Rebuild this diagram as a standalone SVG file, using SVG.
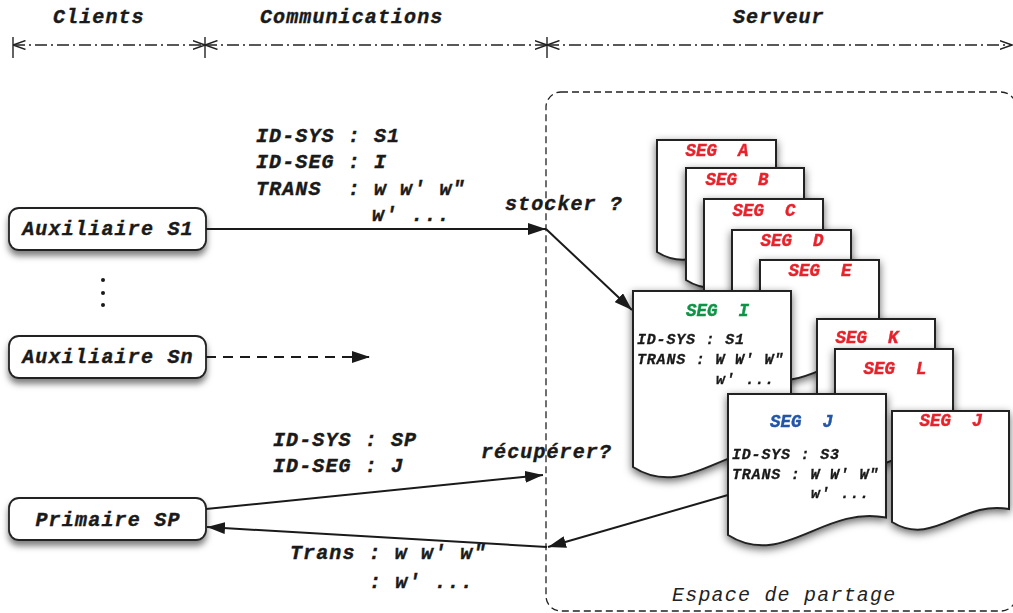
<svg xmlns="http://www.w3.org/2000/svg" width="1013" height="613" viewBox="0 0 1013 613">
<style>
  text{white-space:pre}
  .t{font-family:"Liberation Mono","DejaVu Sans Mono",monospace;font-weight:bold;font-style:italic;font-size:20px;letter-spacing:1.1px;fill:#1a1a1a;stroke:#1a1a1a;stroke-width:0.4}
  .n{font-family:"Liberation Mono","DejaVu Sans Mono",monospace;font-weight:bold;font-style:italic;font-size:20px;letter-spacing:1.2px;fill:#1a1a1a;stroke:#1a1a1a;stroke-width:0.4;text-anchor:middle}
  .seg{font-family:"Liberation Mono","DejaVu Sans Mono",monospace;font-weight:bold;font-style:italic;font-size:17.5px;text-anchor:middle;stroke-width:0.4}
  .d{font-family:"Liberation Mono","DejaVu Sans Mono",monospace;font-weight:bold;font-style:italic;font-size:15px;letter-spacing:0.8px;fill:#1a1a1a;stroke:#1a1a1a;stroke-width:0.3}
  .red{fill:#e8212b;stroke:#e8212b}.green{fill:#0c9447;stroke:#0c9447}.blue{fill:#2356a8;stroke:#2356a8}
  .node{fill:#fff;stroke:#222;stroke-width:1.8}
  .doc{fill:#fff;stroke:#222;stroke-width:2}
  .conn{stroke:#1a1a1a;stroke-width:2;fill:none}
  .ruler{stroke:#222;stroke-width:1.3;fill:none;stroke-dasharray:12 4 2 4}
</style>
<defs>
  <filter id="sh" x="-20%" y="-20%" width="140%" height="160%">
    <feDropShadow dx="0" dy="5" stdDeviation="3" flood-color="#000" flood-opacity="0.5"/>
  </filter>
  <filter id="dsh" x="-20%" y="-20%" width="140%" height="140%">
    <feDropShadow dx="0" dy="3" stdDeviation="4" flood-color="#000" flood-opacity="0.6"/>
  </filter>
  <marker id="arr" viewBox="0 0 18 12" refX="18" refY="6" markerWidth="18" markerHeight="12" markerUnits="userSpaceOnUse" orient="auto">
    <path d="M0,0 L18,6 L0,12 Z" fill="#1a1a1a"/>
  </marker>
  <marker id="chev" viewBox="0 0 13 10" refX="12.5" refY="5" markerWidth="13" markerHeight="10" markerUnits="userSpaceOnUse" orient="auto-start-reverse">
    <path d="M0,0.5 L12.5,5 L0,9.5" fill="none" stroke="#222" stroke-width="1.4"/>
  </marker>
</defs>

<g id="header">
  <text class="t" x="53" y="23" letter-spacing="1.2">Clients</text>
  <text class="t" x="260" y="23" letter-spacing="1.2">Communications</text>
  <text class="t" x="733" y="23" letter-spacing="1.2">Serveur</text>
  <line x1="13" y1="37" x2="13" y2="58" stroke="#222" stroke-width="1.4"/>
  <line x1="205" y1="37" x2="205" y2="58" stroke="#222" stroke-width="1.4"/>
  <line x1="547" y1="37" x2="547" y2="58" stroke="#222" stroke-width="1.4"/>
  <line class="ruler" x1="13" y1="45" x2="205" y2="45" marker-start="url(#chev)" marker-end="url(#chev)"/>
  <line class="ruler" x1="205" y1="45" x2="547" y2="45" marker-start="url(#chev)" marker-end="url(#chev)"/>
  <line class="ruler" x1="547" y1="45" x2="1012" y2="45" marker-start="url(#chev)" marker-end="url(#chev)"/>
</g>

<g id="espace-de-partage">
  <rect x="546" y="92" width="470" height="519" rx="15" fill="none" stroke="#222" stroke-width="1.3" stroke-dasharray="7 4"/>
  <text x="672" y="601" font-family="Liberation Mono, DejaVu Sans Mono, monospace" font-style="italic" font-size="20" letter-spacing="1.2" fill="#222">Espace de partage</text>
</g>

<g id="seg-A" filter="url(#dsh)">
  <path class="doc" d="M657,140 H776 V239 C728.4,229.4 698.6,278 657,252 Z"/>
  <text class="seg red" x="717" y="156">SEG  A</text>
</g>
<g id="seg-B" filter="url(#dsh)">
  <path class="doc" d="M686,168 H804 V267 C756.8,257.6 727.3,306 686,280 Z"/>
  <text class="seg red" x="737" y="185">SEG  B</text>
</g>
<g id="seg-C" filter="url(#dsh)">
  <path class="doc" d="M704,199 H823 V298 C775.4,288.4 745.6,337 704,311 Z"/>
  <text class="seg red" x="764" y="216">SEG  C</text>
</g>
<g id="seg-D" filter="url(#dsh)">
  <path class="doc" d="M732,230 H851 V329 C803.4,319.4 773.6,368 732,342 Z"/>
  <text class="seg red" x="792" y="246">SEG  D</text>
</g>
<g id="seg-E" filter="url(#dsh)">
  <path class="doc" d="M760,260 H879 V359 C831.4,349.4 801.6,398 760,372 Z"/>
  <text class="seg red" x="820" y="276">SEG  E</text>
</g>
<g id="seg-I" filter="url(#dsh)">
  <path class="doc" d="M633,291 H791 V449.6 C727.8,437 688.3,501.8 633,467 Z"/>
  <text class="seg green" x="717.5" y="316">SEG  I</text>
  <text class="d" x="637" y="344">ID-SYS : S1</text>
  <text class="d" x="637" y="364">TRANS : W W' W"</text>
  <text class="d" x="716" y="384">w' ...</text>
</g>
<g id="seg-K" filter="url(#dsh)">
  <path class="doc" d="M817,319 H935 V418 C887.8,408.6 858.3,457 817,431 Z"/>
  <text class="seg red" x="867" y="343">SEG  K</text>
</g>
<g id="seg-L" filter="url(#dsh)">
  <path class="doc" d="M835,349 H953 V448 C905.8,438.6 876.3,487 835,461 Z"/>
  <text class="seg red" x="895" y="374">SEG  L</text>
</g>
<g id="seg-J-blue" filter="url(#dsh)">
  <path class="doc" d="M728,394 H886 V517.6 C822.8,505 783.3,569.8 728,535 Z"/>
  <text class="seg blue" x="801.5" y="427">SEG  J</text>
  <text class="d" x="732" y="459">ID-SYS : S3</text>
  <text class="d" x="732" y="479">TRANS : W W' W"</text>
  <text class="d" x="811" y="498">w' ...</text>
</g>
<g id="seg-J-red" filter="url(#dsh)">
  <path class="doc" d="M892,411 H1009 V509.1 C962.2,499.8 933,547.7 892,522 Z"/>
  <text class="seg red" x="951" y="426">SEG  J</text>
</g>

<g id="auxiliaire-s1">
  <rect class="node" x="9" y="208" width="197" height="42" rx="10" filter="url(#sh)"/>
  <text class="n" x="108" y="235">Auxiliaire S1</text>
</g>
<g id="dots" fill="#1a1a1a">
  <circle cx="103" cy="280" r="2"/>
  <circle cx="103" cy="293" r="2"/>
  <circle cx="103" cy="305" r="2"/>
</g>
<g id="auxiliaire-sn">
  <rect class="node" x="9" y="336" width="197" height="42" rx="10" filter="url(#sh)"/>
  <text class="n" x="108" y="363">Auxiliaire Sn</text>
</g>
<g id="primaire-sp">
  <rect class="node" x="9" y="498" width="197" height="42" rx="10" filter="url(#sh)"/>
  <text class="n" x="108" y="526">Primaire SP</text>
</g>

<g id="connectors">
  <line class="conn" x1="206" y1="229" x2="546" y2="229" marker-end="url(#arr)"/>
  <line class="conn" x1="546" y1="229" x2="632" y2="310" marker-end="url(#arr)"/>
  <line class="conn" x1="206" y1="357" x2="370" y2="357" stroke-dasharray="10 7" marker-end="url(#arr)"/>
  <line class="conn" x1="206" y1="509" x2="543" y2="475" marker-end="url(#arr)"/>
  <line class="conn" x1="728" y1="495" x2="548" y2="547" marker-end="url(#arr)"/>
  <line class="conn" x1="547" y1="547" x2="207" y2="527" marker-end="url(#arr)"/>
</g>

<g id="labels">
  <text class="t" x="256" y="142">ID-SYS : S1</text>
  <text class="t" x="256" y="168">ID-SEG : I</text>
  <text class="t" x="256" y="195">TRANS  : w w' w"</text>
  <text class="t" x="372" y="221">w' ...</text>
  <text class="t" x="505" y="210">stocker ?</text>
  <text class="t" x="273" y="446">ID-SYS : SP</text>
  <text class="t" x="273" y="472">ID-SEG : J</text>
  <text class="t" x="481" y="458">récupérer?</text>
  <text class="t" x="290" y="559">Trans : w w' w"</text>
  <text class="t" x="369" y="588">: w' ...</text>
</g>
</svg>
